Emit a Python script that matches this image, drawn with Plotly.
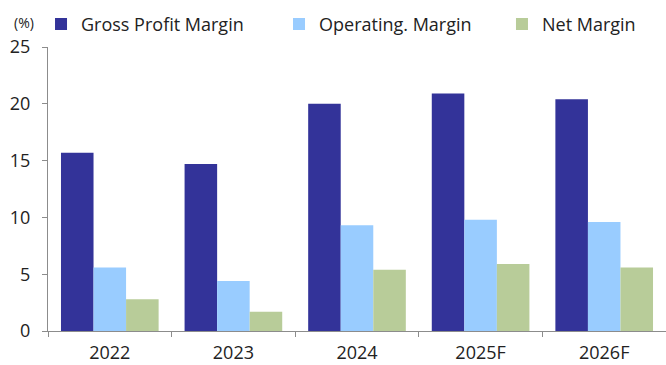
import plotly.graph_objects as go

categories = ["2022", "2023", "2024", "2025F", "2026F"]
gross_margin = [15.7, 14.7, 20.0, 20.9, 20.4]
operating_margin = [5.6, 4.4, 9.3, 9.8, 9.6]
net_margin = [2.8, 1.7, 5.4, 5.9, 5.6]
series_names = ["Gross Profit Margin", "Operating. Margin", "Net Margin"]
colors = ["#333399", "#99CCFF", "#B8CC99"]
y_ticks = [0, 5, 10, 15, 20, 25]

FONT = "Open Sans"
TXT = "#222222"

fig = go.Figure()
legend_ids = ["legend", "legend2", "legend3"]
for vals, name, col, lg in zip([gross_margin, operating_margin, net_margin], series_names, colors, legend_ids):
    fig.add_trace(go.Bar(x=categories, y=vals, name=name, marker=dict(color=col, line=dict(width=0)),
                         legend=lg))

legend_common = dict(orientation="h", yanchor="top", y=1.145, xanchor="left",
                     font=dict(family=FONT, size=18, color=TXT), bgcolor="rgba(0,0,0,0)",
                     borderwidth=0, itemwidth=30, tracegroupgap=0)

fig.update_layout(
    width=666, height=365,
    margin=dict(l=48, r=0, t=47, b=34, autoexpand=False),
    paper_bgcolor="white", plot_bgcolor="white",
    barmode="group", bargap=0.21, bargroupgap=0,
    showlegend=True,
    legend=dict(x=-0.0113, **legend_common),
    legend2=dict(x=0.3738, **legend_common),
    legend3=dict(x=0.7346, **legend_common),
    font=dict(family=FONT, size=18, color=TXT),
    xaxis=dict(showline=True, linecolor="#8c8c8c", linewidth=1, ticks="outside", tickson="boundaries",
               ticklen=5, tickcolor="#8c8c8c", showgrid=False, automargin=False,
               tickfont=dict(size=18, color=TXT), ticklabelstandoff=5),
    yaxis=dict(range=[0, 25], tickvals=y_ticks, showline=True, linecolor="#8c8c8c", linewidth=1,
               ticks="outside", ticklen=5, tickcolor="#8c8c8c", showgrid=False, zeroline=False,
               automargin=False, tickfont=dict(size=18, color=TXT), ticklabelstandoff=8),
    annotations=[dict(text="(%)", xref="paper", yref="paper", x=-0.0388, y=1.088, xanchor="center",
                      yanchor="middle", showarrow=False, font=dict(family=FONT, size=14, color=TXT))],
)

fig.write_html("out.html")
